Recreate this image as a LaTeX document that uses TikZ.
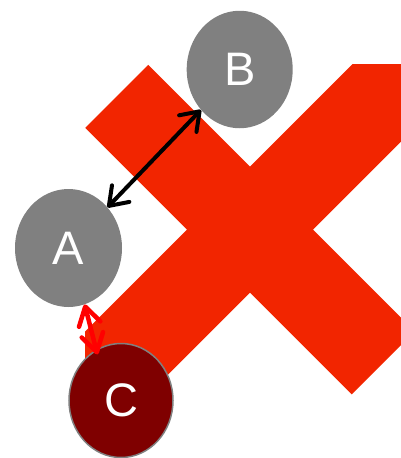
\documentclass[tikz,border=0pt]{standalone}
\usepackage{fontspec}
\setmainfont{Liberation Sans}
\usetikzlibrary{shapes.geometric,arrows.meta}
\definecolor{xred}{RGB}{242,37,0}
\definecolor{nodegray}{RGB}{128,128,128}
\definecolor{darkred}{RGB}{127,0,0}
\definecolor{arrowred}{RGB}{255,0,0}
\begin{document}
\begin{tikzpicture}[x=1pt,y=-1pt,
  bubble/.style={ellipse, inner sep=0pt, text=white, font=\fontsize{47}{50}\selectfont},
  grayb/.style={bubble, fill=nodegray, minimum width=107pt, minimum height=118pt},
  darkb/.style={bubble, fill=darkred, draw=nodegray, line width=1.5pt, minimum width=104pt, minimum height=114pt},
  blackarrow/.style={draw=black, line width=4pt,
    {Straight Barb[length=17pt,width=24pt,round]}-{Straight Barb[length=17pt,width=24pt,round]}},
  redarrow/.style={draw=arrowred, line width=4.5pt,
    {Straight Barb[length=18pt,width=22pt,round]}-{Straight Barb[length=18pt,width=22pt,round]}}
]
\fill[white] (0,0) rectangle (401,458);
\useasboundingbox (0,0) rectangle (401,458);
\begin{scope}
  \clip (85,64) rectangle (401,458);
  \fill[xred] (250,166.5) -- (418.5,-2) -- (481.5,61) -- (313,229.5)
    -- (414.75,331.25) -- (351.75,394.25) -- (250,292.5)
    -- (116.5,426) -- (53.5,363) -- (187,229.5)
    -- (85.25,127.75) -- (148.25,64.75) -- cycle;
\end{scope}
\node[grayb] (A) at (68.5,248) {A};
\node[grayb, minimum width=106pt, minimum height=117.5pt] (B) at (239.7,69.5) {B};
\node[darkb] (C) at (121,400.5) {C};
\draw[blackarrow] (A) -- (B);
\draw[redarrow, shorten >=-5pt] (A.-74) -- (C.116);
\end{tikzpicture}
\end{document}
